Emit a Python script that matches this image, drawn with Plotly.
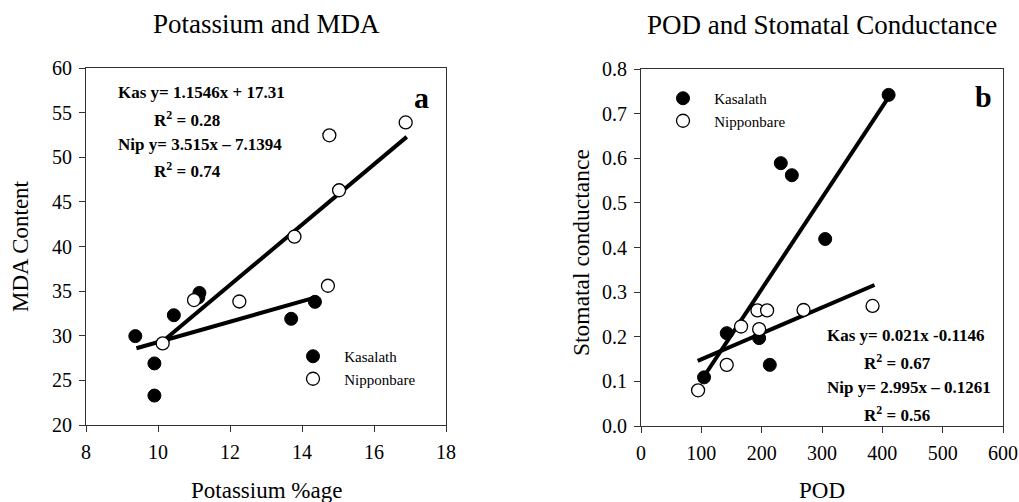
import plotly.graph_objects as go

# ---------------- Panel a : Potassium vs MDA ----------------
kas_k = [9.37, 9.90, 9.90, 10.44, 11.15, 11.12, 13.70, 14.36]
kas_mda = [29.96, 26.9, 23.3, 32.3, 34.8, 34.3, 31.9, 33.8]
nip_k = [10.13, 11.00, 12.26, 13.79, 14.76, 14.72, 15.03, 16.88]
nip_mda = [29.14, 34.0, 33.84, 41.1, 52.46, 35.6, 46.3, 53.9]
kas_fit_k = [9.4, 14.38]
kas_fit_mda = [28.6, 34.3]
nip_fit_k = [10.2, 16.91]
nip_fit_mda = [29.6, 52.28]

# ---------------- Panel b : POD vs stomatal conductance ----------------
kas_pod = [410.4, 231.7, 250.0, 305.3, 142.1, 195.8, 213.5, 104.5]
kas_gs = [0.742, 0.589, 0.562, 0.419, 0.208, 0.197, 0.137, 0.109]
nip_pod = [94.6, 142.1, 165.9, 193.0, 209.0, 195.8, 269.4, 383.8]
nip_gs = [0.080, 0.137, 0.223, 0.259, 0.259, 0.217, 0.260, 0.269]
kas_fit_pod = [98, 408]
kas_fit_gs = [0.098, 0.732]
nip_fit_pod = [94, 387]
nip_fit_gs = [0.146, 0.316]

FONT = "Liberation Serif"
NB = "\u00a0\u00a0\u00a0"

fig = go.Figure()

def filled(x, y, xa, ya, leg, name, show):
    return go.Scatter(x=x, y=y, xaxis=xa, yaxis=ya, mode="markers", name=NB + name,
                      legend=leg, showlegend=show,
                      marker=dict(size=13, color="black", line=dict(color="black", width=1)))

def hollow(x, y, xa, ya, leg, name, show):
    return go.Scatter(x=x, y=y, xaxis=xa, yaxis=ya, mode="markers", name=NB + name,
                      legend=leg, showlegend=show,
                      marker=dict(size=13, color="white", line=dict(color="black", width=1.3)))

def fitline(x, y, xa, ya):
    return go.Scatter(x=x, y=y, xaxis=xa, yaxis=ya, mode="lines", showlegend=False,
                      line=dict(color="black", width=4), hoverinfo="skip")

# panel a
fig.add_trace(fitline(kas_fit_k, kas_fit_mda, "x", "y"))
fig.add_trace(fitline(nip_fit_k, nip_fit_mda, "x", "y"))
fig.add_trace(filled(kas_k, kas_mda, "x", "y", "legend", "Kasalath", True))
fig.add_trace(hollow(nip_k, nip_mda, "x", "y", "legend", "Nipponbare", True))
# panel b
fig.add_trace(fitline(kas_fit_pod, kas_fit_gs, "x2", "y2"))
fig.add_trace(fitline(nip_fit_pod, nip_fit_gs, "x2", "y2"))
fig.add_trace(filled(kas_pod, kas_gs, "x2", "y2", "legend2", "Kasalath", True))
fig.add_trace(hollow(nip_pod, nip_gs, "x2", "y2", "legend2", "Nipponbare", True))

W, H = 1019, 502
def px(v): return v / W
def py(v): return 1 - v / H

axis_common = dict(showline=True, linecolor="#333", linewidth=1, mirror=True,
                   ticks="outside", ticklen=6, tickcolor="#333", tickwidth=1,
                   showgrid=False, zeroline=False, ticklabelstandoff=3,
                   tickfont=dict(family=FONT, size=20, color="black"))

fig.update_layout(
    width=W, height=H,
    margin=dict(l=0, r=0, t=0, b=0, autoexpand=False),
    paper_bgcolor="white", plot_bgcolor="white",
    font=dict(family=FONT, color="black"),
    xaxis=dict(domain=[px(86), px(446)], range=[8, 18], dtick=2, anchor="y", **axis_common),
    yaxis=dict(domain=[py(425), py(68)], range=[20, 60], dtick=5, anchor="x", **axis_common),
    xaxis2=dict(domain=[px(641), px(1003)], range=[0, 600], dtick=100, anchor="y2", **axis_common),
    yaxis2=dict(domain=[py(426), py(69)], range=[0, 0.8], dtick=0.1, tickformat=".1f",
                anchor="x2", **axis_common),
    legend=dict(x=px(293), y=py(340), xanchor="left", yanchor="top",
                bgcolor="rgba(0,0,0,0)", font=dict(family=FONT, size=15, color="black"),
                tracegroupgap=0, itemclick=False),
    legend2=dict(x=px(663), y=py(82), xanchor="left", yanchor="top",
                 bgcolor="rgba(0,0,0,0)", font=dict(family=FONT, size=15, color="black"),
                 tracegroupgap=0, itemclick=False),
    showlegend=True,
)

ann = []
def paper_text(text, x, y, size, angle=0):
    ann.append(dict(text=text, x=px(x), y=py(y), xref="paper", yref="paper",
                    xanchor="center", yanchor="middle", textangle=angle,
                    showarrow=False, font=dict(family=FONT, size=size)))

# titles
paper_text("Potassium and MDA", 266, 24, 27)
paper_text("POD and Stomatal Conductance", 822, 25, 27)
# axis titles
paper_text("Potassium %age", 266, 490, 23)
paper_text("POD", 822, 490, 23)
paper_text("MDA Content", 20, 246, 23, -90)
paper_text("Stomatal conductance", 581, 253, 23.5, -90)
# panel letters
ann.append(dict(text="<b>a</b>", x=17.31, y=56.75, xref="x", yref="y", showarrow=False,
                xanchor="center", yanchor="middle", font=dict(family=FONT, size=30)))
ann.append(dict(text="<b>b</b>", x=566.9, y=0.7395, xref="x2", yref="y2", showarrow=False,
                xanchor="center", yanchor="middle", font=dict(family=FONT, size=30)))
# equations panel a
eq_a = [("Kas y= 1.1546x + 17.31", 8.83, 57.2),
        ("R<sup>2</sup> = 0.28", 9.83, 54.29),
        ("Nip y= 3.515x \u2013 7.1394", 8.83, 51.38),
        ("R<sup>2</sup> = 0.74", 9.83, 48.58)]
for t, x, y in eq_a:
    ann.append(dict(text="<b>" + t + "</b>", x=x, y=y, xref="x", yref="y", xanchor="left",
                    yanchor="middle", showarrow=False, font=dict(family=FONT, size=17)))
eq_b = [("Kas y= 0.021x -0.1146", 305, 0.202),
        ("R<sup>2</sup> = 0.67", 365.8, 0.143),
        ("Nip y= 2.995x \u2013 0.1261", 305, 0.0874),
        ("R<sup>2</sup> = 0.56", 365.8, 0.027)]
for t, x, y in eq_b:
    ann.append(dict(text="<b>" + t + "</b>", x=x, y=y, xref="x2", yref="y2", xanchor="left",
                    yanchor="middle", showarrow=False, font=dict(family=FONT, size=17)))

fig.update_layout(annotations=ann)
fig.write_html("out.html", config={"displayModeBar": False},
               post_script="document.body.style.margin='0';document.body.style.overflow='hidden';")
